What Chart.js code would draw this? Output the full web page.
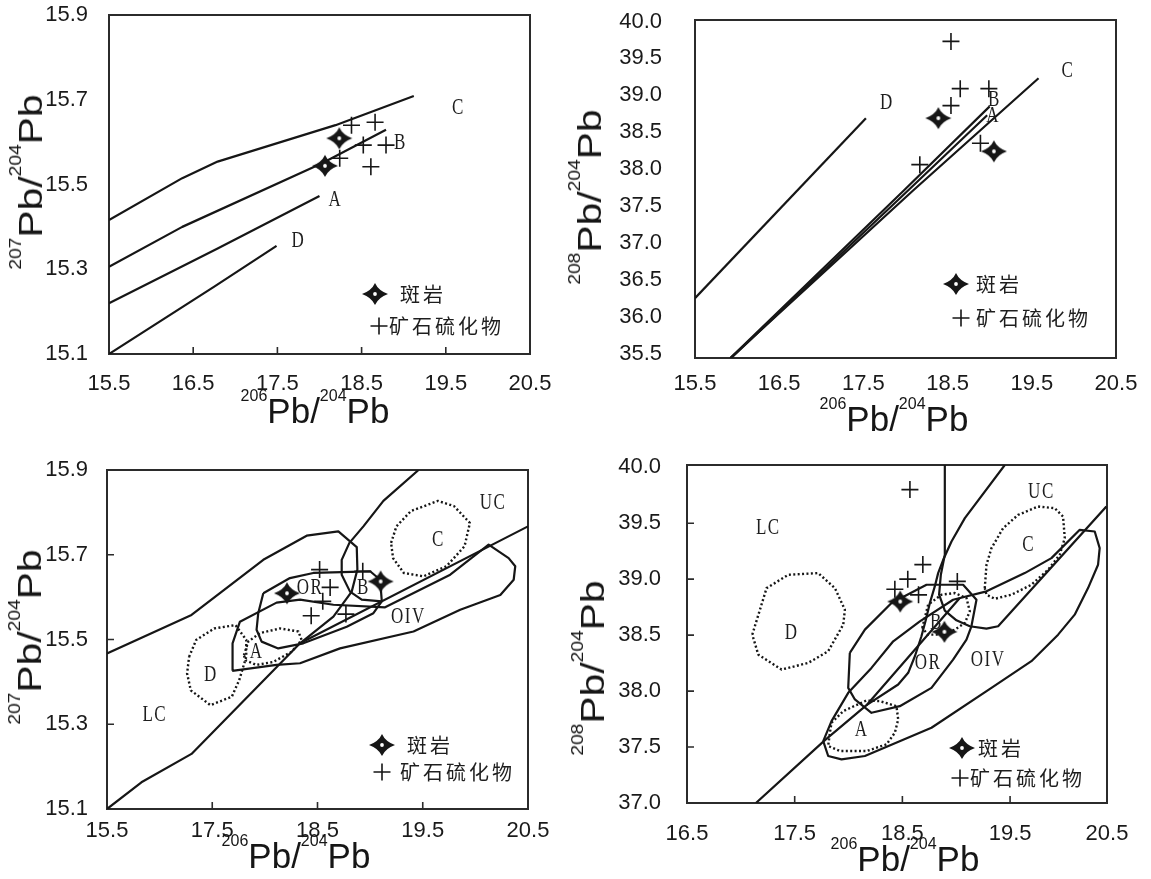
<!DOCTYPE html>
<html lang="zh">
<head>
<meta charset="utf-8">
<title>Pb isotope diagrams</title>
<script src="https://cdn.jsdelivr.net/npm/chart.js@4.4.1/dist/chart.umd.min.js"></script>
<style>
  html, body { margin: 0; background: #fff; }
  #wrap { position: relative; width: 1151px; height: 879px; overflow: hidden;
          font-family: "Liberation Sans", Arial, sans-serif; color: #161616; }
  .panel { position: absolute; }
  .panel canvas { display: block; }
  .ttl { position: absolute; white-space: nowrap; line-height: 1; }
  .ttl span { position: relative; font-size: 16px; }
  .xt { font-size: 35px; transform: translateX(-50%); }
  .xt span { top: -22px; }
  .yt { font-size: 34px; transform: translate(-50%, -50%) rotate(-90deg) scaleX(1.2); }
  .yt span { top: -21px; }
</style>
</head>
<body>
<div id="wrap">
  <div class="panel" style="left:0;top:0"><canvas id="c1" width="560" height="440"></canvas></div>
  <div class="panel" style="left:575px;top:0"><canvas id="c2" width="576" height="440"></canvas></div>
  <div class="panel" style="left:0;top:440px"><canvas id="c3" width="560" height="439"></canvas></div>
  <div class="panel" style="left:575px;top:440px"><canvas id="c4" width="576" height="439"></canvas></div>

  <div class="ttl xt" style="left:315px;top:393px"><span>206</span>Pb/<span>204</span>Pb</div>
  <div class="ttl xt" style="left:894px;top:401px"><span>206</span>Pb/<span>204</span>Pb</div>
  <div class="ttl xt" style="left:296px;top:838px"><span>206</span>Pb/<span>204</span>Pb</div>
  <div class="ttl xt" style="left:905px;top:841px"><span>206</span>Pb/<span>204</span>Pb</div>

  <div class="ttl yt" style="left:30px;top:182px"><span>207</span>Pb/<span>204</span>Pb</div>
  <div class="ttl yt" style="left:589px;top:197px"><span>208</span>Pb/<span>204</span>Pb</div>
  <div class="ttl yt" style="left:29px;top:637px"><span>207</span>Pb/<span>204</span>Pb</div>
  <div class="ttl yt" style="left:592px;top:668px"><span>208</span>Pb/<span>204</span>Pb</div>
</div>

<script>
// ---- shared text ----
const legendLabels = ['斑岩', '矿石硫化物'];

// ---- panel 1: 207Pb/204Pb vs 206Pb/204Pb, evolution curves ----
const p1XTicks = [15.5, 16.5, 17.5, 18.5, 19.5, 20.5];
const p1XLabels = ['15.5', '16.5', '17.5', '18.5', '19.5', '20.5'];
const p1YTicks = [15.1, 15.3, 15.5, 15.7, 15.9];
const p1YLabels = ['15.1', '15.3', '15.5', '15.7', '15.9'];
const p1CurveC = [[15.5, 15.416], [16.37, 15.515], [16.79, 15.554], [18.19, 15.64], [19.12, 15.709]];
const p1CurveB = [[15.5, 15.306], [16.37, 15.40], [18.03, 15.55], [18.79, 15.629]];
const p1CurveA = [[15.5, 15.22], [16.79, 15.349], [18.0, 15.473]];
const p1CurveD = [[15.5, 15.1], [16.75, 15.259], [17.49, 15.355]];
const p1PorphyryX = [18.235, 18.065];
const p1PorphyryY = [15.609, 15.544];
const p1SulfideX = [18.38, 18.66, 18.52, 18.79, 18.24, 18.61];
const p1SulfideY = [15.640, 15.647, 15.593, 15.593, 15.562, 15.542];
const p1Tags = ['C', 'B', 'A', 'D'];
const p1TagX = [19.65, 18.96, 18.19, 17.75];
const p1TagY = [15.68, 15.599, 15.463, 15.367];

// ---- panel 2: 208Pb/204Pb vs 206Pb/204Pb, evolution curves ----
const p2XTicks = [15.5, 16.5, 17.5, 18.5, 19.5, 20.5];
const p2XLabels = ['15.5', '16.5', '17.5', '18.5', '19.5', '20.5'];
const p2YTicks = [35.5, 36.0, 36.5, 37.0, 37.5, 38.0, 38.5, 39.0, 39.5, 40.0];
const p2YLabels = ['35.5', '36.0', '36.5', '37.0', '37.5', '38.0', '38.5', '39.0', '39.5', '40.0'];
const p2CurveD = [[15.5, 36.25], [17.53, 38.69]];
const p2CurveC = [[15.92, 35.44], [18.09, 37.71], [19.58, 39.23]];
const p2CurveB = [[15.92, 35.44], [17.98, 37.71], [19.0, 38.85]];
const p2CurveA = [[15.93, 35.44], [18.03, 37.71], [18.97, 38.73]];
const p2PorphyryX = [18.39, 19.05];
const p2PorphyryY = [38.69, 38.24];
const p2SulfideX = [18.54, 18.65, 18.99, 18.54, 18.89, 18.17];
const p2SulfideY = [39.73, 39.09, 39.09, 38.86, 38.35, 38.06];
const p2Tags = ['D', 'C', 'B', 'A'];
const p2TagX = [17.78, 19.93, 19.055, 19.04];
const p2TagY = [38.90, 39.33, 38.93, 38.72];

// ---- panel 3: 207Pb/204Pb fields ----
const p3XTicks = [16.5, 17.5, 18.5, 19.5, 20.5];
const p3XLabels = ['15.5', '17.5', '18.5', '19.5', '20.5'];
const p3YTicks = [15.1, 15.3, 15.5, 15.7, 15.9];
const p3YLabels = ['15.1', '15.3', '15.5', '15.7', '15.9'];
const p3BoundLC = [[16.5, 15.467], [17.303, 15.558], [17.985, 15.688], [18.397, 15.745], [18.698, 15.755],
  [18.873, 15.718], [18.879, 15.665], [18.825, 15.613], [18.651, 15.554], [18.334, 15.491]];
const p3BoundLow = [[16.5, 15.1], [16.827, 15.163], [17.303, 15.230], [18.334, 15.491], [20.5, 15.767]];
const p3BoundUC = [[19.46, 15.9], [19.126, 15.827], [18.936, 15.767], [18.803, 15.728], [18.730, 15.688],
  [18.730, 15.653], [18.809, 15.613], [18.920, 15.594], [19.111, 15.590]];
const p3FieldOR = [[17.985, 15.609], [18.238, 15.645], [18.460, 15.657], [19.0, 15.661], [19.095, 15.641],
  [19.111, 15.590], [19.031, 15.562], [18.778, 15.530], [18.365, 15.491], [18.127, 15.479], [17.969, 15.495],
  [17.921, 15.523], [17.937, 15.562], [17.985, 15.609]];
const p3FieldOIV = [[17.690, 15.426], [17.693, 15.491], [17.763, 15.542], [18.111, 15.587], [18.334, 15.594],
  [18.651, 15.582], [19.142, 15.576], [19.761, 15.653], [20.126, 15.724], [20.316, 15.692], [20.379, 15.673],
  [20.364, 15.641], [20.237, 15.605], [19.856, 15.570], [19.412, 15.519], [18.714, 15.479], [18.334, 15.444],
  [18.111, 15.440], [17.690, 15.426]];
const p3AreaD = [[17.280, 15.459], [17.347, 15.499], [17.518, 15.526], [17.721, 15.534], [17.823, 15.499],
  [17.823, 15.459], [17.756, 15.404], [17.686, 15.365], [17.483, 15.345], [17.296, 15.380], [17.261, 15.420],
  [17.280, 15.459]];
const p3AreaA = [[17.801, 15.463], [17.842, 15.495], [17.953, 15.515], [18.143, 15.526], [18.318, 15.519],
  [18.349, 15.499], [18.254, 15.471], [18.080, 15.447], [17.921, 15.440], [17.816, 15.451], [17.801, 15.463]];
const p3AreaC = [[19.199, 15.728], [19.250, 15.767], [19.387, 15.803], [19.644, 15.827], [19.796, 15.815],
  [19.948, 15.775], [19.897, 15.720], [19.726, 15.673], [19.507, 15.649], [19.320, 15.657], [19.218, 15.692],
  [19.199, 15.728]];
const p3PorphyryX = [18.21, 19.10];
const p3PorphyryY = [15.609, 15.637];
const p3SulfideX = [18.52, 18.62, 18.55, 18.44, 18.77, 18.93];
const p3SulfideY = [15.665, 15.623, 15.590, 15.556, 15.560, 15.661];
const p3Tags = ['UC', 'C', 'OR', 'B', 'OIV', 'A', 'D', 'LC'];
const p3TagX = [20.167, 19.650, 18.429, 18.936, 19.364, 17.921, 17.487, 16.954];
const p3TagY = [15.823, 15.736, 15.621, 15.621, 15.554, 15.471, 15.416, 15.321];

// ---- panel 4: 208Pb/204Pb fields ----
const p4XTicks = [16.5, 17.5, 18.5, 19.5, 20.4];
const p4XLabels = ['16.5', '17.5', '18.5', '19.5', '20.5'];
const p4YTicks = [37.0, 37.5, 38.0, 38.5, 39.0, 39.5, 40.0];
const p4YLabels = ['37.0', '37.5', '38.0', '38.5', '39.0', '39.5', '40.0'];
const p4BoundLC = [[18.894, 40.02], [18.894, 39.218], [18.857, 39.039], [18.841, 38.861], [18.894, 38.718],
  [19.002, 38.632], [19.126, 38.579], [19.281, 38.558], [19.389, 38.579], [20.394, 39.649]];
const p4BoundUC = [[19.451, 40.02], [19.080, 39.545], [18.956, 39.337], [18.879, 39.173], [18.832, 39.054],
  [18.801, 38.935], [18.755, 38.787], [18.718, 38.638], [18.677, 38.490], [18.616, 38.311], [18.554, 38.163],
  [18.461, 38.059], [18.167, 37.874]];
const p4BoundLow = [[17.14, 37.0], [17.781, 37.562], [18.167, 37.874], [19.033, 38.831]];
const p4FieldOR = [[18.012, 38.341], [18.152, 38.549], [18.399, 38.787], [18.724, 38.950], [19.064, 38.950],
  [19.188, 38.816], [19.141, 38.579], [19.095, 38.460], [18.971, 38.281], [18.770, 38.029], [18.476, 37.865],
  [18.213, 37.806], [18.059, 37.925], [17.997, 38.029], [18.012, 38.341]];
const p4FieldOIV = [[17.765, 37.553], [17.842, 37.732], [17.997, 37.984], [18.213, 38.207], [18.415, 38.445],
  [18.662, 38.623], [18.971, 38.816], [19.281, 38.891], [19.636, 39.054], [19.884, 39.188], [20.147, 39.441],
  [20.286, 39.426], [20.332, 39.277], [20.317, 39.129], [20.224, 38.920], [20.100, 38.683], [19.946, 38.504],
  [19.698, 38.267], [19.327, 38.029], [18.770, 37.672], [18.152, 37.420], [17.935, 37.390], [17.811, 37.420],
  [17.765, 37.553]];
const p4AreaD = [[17.106, 38.504], [17.239, 38.920], [17.440, 39.039], [17.719, 39.054], [17.873, 38.920],
  [17.966, 38.727], [17.951, 38.594], [17.811, 38.356], [17.626, 38.252], [17.378, 38.192], [17.162, 38.326],
  [17.106, 38.504]];
const p4AreaA = [[17.842, 37.717], [17.951, 37.821], [18.167, 37.916], [18.291, 37.910], [18.445, 37.865],
  [18.461, 37.747], [18.430, 37.628], [18.353, 37.524], [18.167, 37.464], [17.920, 37.464], [17.811, 37.509],
  [17.827, 37.628], [17.842, 37.717]];
const p4AreaB = [[18.684, 38.564], [18.739, 38.772], [18.863, 38.861], [18.987, 38.876], [19.095, 38.831],
  [19.126, 38.712], [19.080, 38.608], [18.987, 38.549], [18.863, 38.504], [18.739, 38.504], [18.684, 38.564]];
const p4AreaC = [[19.265, 38.920], [19.281, 39.129], [19.327, 39.277], [19.435, 39.455], [19.574, 39.574],
  [19.760, 39.649], [19.915, 39.634], [19.992, 39.559], [20.008, 39.366], [19.961, 39.218], [19.853, 39.084],
  [19.698, 38.950], [19.513, 38.861], [19.358, 38.825], [19.281, 38.861], [19.265, 38.920]];
const p4PorphyryX = [18.48, 18.89];
const p4PorphyryY = [38.80, 38.53];
const p4SulfideX = [18.57, 18.69, 18.55, 18.43, 18.65, 19.01];
const p4SulfideY = [39.80, 39.13, 39.00, 38.91, 38.86, 38.98];
const p4Tags = ['LC', 'D', 'B', 'OR', 'OIV', 'A', 'C', 'UC'];
const p4TagX = [17.255, 17.471, 18.817, 18.739, 19.296, 18.121, 19.673, 19.791];
const p4TagY = [39.455, 38.519, 38.608, 38.252, 38.281, 37.657, 39.307, 39.782];

// ---- drawing helpers ----
const FONT_SANS = '"Liberation Sans", Arial, sans-serif';
const FONT_SERIF = '"Liberation Serif", "Times New Roman", serif';
const FONT_CJK = '"Noto Sans CJK SC", sans-serif';
const INK = '#161616';

const toXY = pts => pts.map(p => ({ x: p[0], y: p[1] }));
const zip = (xs, ys) => xs.map((x, i) => ({ x, y: ys[i] }));

function drawStar(g, cx, cy, rx, ry) {
  const k = 3.4;
  g.save();
  g.beginPath();
  g.moveTo(cx, cy - ry);
  g.quadraticCurveTo(cx + k, cy - k, cx + rx, cy);
  g.quadraticCurveTo(cx + k, cy + k, cx, cy + ry);
  g.quadraticCurveTo(cx - k, cy + k, cx - rx, cy);
  g.quadraticCurveTo(cx - k, cy - k, cx, cy - ry);
  g.closePath();
  g.fillStyle = INK;
  g.fill();
  g.fillStyle = '#fff';
  g.beginPath();
  g.arc(cx, cy, 1.9, 0, Math.PI * 2);
  g.fill();
  g.restore();
}

function drawPlus(g, cx, cy, r) {
  g.save();
  g.strokeStyle = INK;
  g.lineWidth = 1.6;
  g.beginPath();
  g.moveTo(cx - r, cy); g.lineTo(cx + r, cy);
  g.moveTo(cx, cy - r); g.lineTo(cx, cy + r);
  g.stroke();
  g.restore();
}

const STAR = (() => {
  const c = document.createElement('canvas');
  c.width = 28; c.height = 24;
  drawStar(c.getContext('2d'), 14, 12, 13, 11);
  return c;
})();

// frame, inner ticks, letters and the in-plot legend
function decor(cfg) {
  return {
    id: 'decor',
    beforeDatasetsDraw(chart) {
      const { ctx, chartArea: a, scales: { x, y } } = chart;
      ctx.save();
      ctx.strokeStyle = '#2b2b2b';
      ctx.lineWidth = 2;
      ctx.strokeRect(a.left, a.top, a.right - a.left, a.bottom - a.top);
      ctx.lineWidth = 1.6;
      ctx.beginPath();
      cfg.xInner.forEach(v => {
        const px = x.getPixelForValue(v);
        ctx.moveTo(px, a.bottom); ctx.lineTo(px, a.bottom - 7);
      });
      cfg.yInner.forEach(v => {
        const py = y.getPixelForValue(v);
        ctx.moveTo(a.left, py); ctx.lineTo(a.left + 7, py);
      });
      ctx.stroke();
      ctx.restore();
    },
    afterDatasetsDraw(chart) {
      const { ctx, chartArea: a, scales: { x, y } } = chart;
      ctx.save();
      ctx.fillStyle = '#1e1e1e';
      ctx.font = '23px ' + FONT_SERIF;
      ctx.textAlign = 'center';
      ctx.textBaseline = 'middle';
      ctx.letterSpacing = '2px';
      cfg.tags.forEach((t, i) => {
        ctx.save();
        ctx.translate(x.getPixelForValue(cfg.tagX[i]), y.getPixelForValue(cfg.tagY[i]));
        ctx.scale(0.74, 1);
        ctx.fillText(t, 0, 0);
        ctx.restore();
      });

      const L = cfg.legend;
      drawStar(ctx, a.right + L.star[0], a.bottom + L.star[1], 13, 11);
      drawPlus(ctx, a.right + L.plus[0], a.bottom + L.plus[1], 8.5);
      ctx.font = '20px ' + FONT_CJK;
      ctx.textAlign = 'left';
      ctx.letterSpacing = '3px';
      ctx.fillStyle = '#1e1e1e';
      ctx.fillText(legendLabels[0], a.right + L.starText, a.bottom + L.star[1]);
      ctx.fillText(legendLabels[1], a.right + L.plusText, a.bottom + L.plus[1]);
      ctx.restore();
    }
  };
}

function makePanel(id, cfg) {
  const lineSets = cfg.lines.map(l => ({
    data: toXY(l.pts),
    showLine: true,
    borderColor: INK,
    borderWidth: l.dotted ? 2.4 : 2.2,
    borderDash: l.dotted ? [2, 2.4] : [],
    borderJoinStyle: 'round',
    pointRadius: 0,
    fill: false,
    tension: 0
  }));
  const datasets = [
    { data: zip(cfg.porX, cfg.porY), pointStyle: STAR, pointRadius: 7, showLine: false },
    { data: zip(cfg.sulX, cfg.sulY), pointStyle: 'cross', pointRadius: 8.5, borderWidth: 1.6,
      borderColor: INK, showLine: false },
    ...lineSets
  ];
  const tickFont = { family: FONT_SANS, size: 22 };

  new Chart(document.getElementById(id), {
    type: 'scatter',
    data: { datasets },
    options: {
      responsive: false,
      animation: false,
      events: [],
      layout: { padding: { left: 0, top: cfg.padTop, right: cfg.padRight, bottom: 0 } },
      plugins: { legend: { display: false }, tooltip: { enabled: false } },
      scales: {
        x: {
          type: 'linear', min: cfg.xMin, max: cfg.xMax,
          afterBuildTicks: s => { s.ticks = cfg.xTicks.map(v => ({ value: v })); },
          // fixed axis band; the frame position comes from the layout padding only
          afterFit: s => { s.height = cfg.xAxisH; s.paddingLeft = 0; s.paddingRight = 0; },
          grid: { display: false, drawTicks: false },
          border: { display: false },
          ticks: { autoSkip: false, maxRotation: 0, padding: cfg.xPad, font: tickFont, color: '#1a1a1a',
                   callback: (v, i) => cfg.xLabels[i] }
        },
        y: {
          type: 'linear', min: cfg.yMin, max: cfg.yMax,
          afterBuildTicks: s => { s.ticks = cfg.yTicks.map(v => ({ value: v })); },
          afterFit: s => { s.width = cfg.yAxisW; s.paddingTop = 0; s.paddingBottom = 0; },
          grid: { display: false, drawTicks: false },
          border: { display: false },
          ticks: { autoSkip: false, padding: cfg.yPad, font: tickFont, color: '#1a1a1a',
                   callback: (v, i) => cfg.yLabels[i] }
        }
      }
    },
    plugins: [decor(cfg)]
  });
}

makePanel('c1', {
  xMin: 15.5, xMax: 20.5, yMin: 15.1, yMax: 15.9,
  xTicks: p1XTicks, xLabels: p1XLabels, yTicks: p1YTicks, yLabels: p1YLabels,
  yAxisW: 109, xAxisH: 86, padTop: 15, padRight: 30, xPad: 17, yPad: 21,
  xInner: [16.5, 17.5, 18.5, 19.5], yInner: [],
  lines: [{ pts: p1CurveC }, { pts: p1CurveB }, { pts: p1CurveA }, { pts: p1CurveD }],
  porX: p1PorphyryX, porY: p1PorphyryY, sulX: p1SulfideX, sulY: p1SulfideY,
  tags: p1Tags, tagX: p1TagX, tagY: p1TagY,
  legend: { star: [-155, -60], starText: -130, plus: [-151, -28], plusText: -141 }
});

makePanel('c2', {
  xMin: 15.5, xMax: 20.5, yMin: 35.44, yMax: 40.02,
  xTicks: p2XTicks, xLabels: p2XLabels, yTicks: p2YTicks, yLabels: p2YLabels,
  yAxisW: 120, xAxisH: 82, padTop: 20, padRight: 35, xPad: 13, yPad: 33,
  xInner: [], yInner: [],
  lines: [{ pts: p2CurveD }, { pts: p2CurveC }, { pts: p2CurveB }, { pts: p2CurveA }],
  porX: p2PorphyryX, porY: p2PorphyryY, sulX: p2SulfideX, sulY: p2SulfideY,
  tags: p2Tags, tagX: p2TagX, tagY: p2TagY,
  legend: { star: [-160, -74], starText: -140, plus: [-155, -40], plusText: -140 }
});

makePanel('c3', {
  xMin: 16.5, xMax: 20.5, yMin: 15.1, yMax: 15.9,
  xTicks: p3XTicks, xLabels: p3XLabels, yTicks: p3YTicks, yLabels: p3YLabels,
  yAxisW: 107, xAxisH: 70, padTop: 30, padRight: 32, xPad: 9, yPad: 19,
  xInner: [17.5, 18.5, 19.5], yInner: [15.3, 15.5, 15.7],
  lines: [
    { pts: p3BoundLC }, { pts: p3BoundLow }, { pts: p3BoundUC }, { pts: p3FieldOR }, { pts: p3FieldOIV },
    { pts: p3AreaD, dotted: true }, { pts: p3AreaA, dotted: true }, { pts: p3AreaC, dotted: true }
  ],
  porX: p3PorphyryX, porY: p3PorphyryY, sulX: p3SulfideX, sulY: p3SulfideY,
  tags: p3Tags, tagX: p3TagX, tagY: p3TagY,
  legend: { star: [-146, -64], starText: -121, plus: [-146, -37], plusText: -128 }
});

makePanel('c4', {
  xMin: 16.5, xMax: 20.4, yMin: 37.0, yMax: 40.02,
  xTicks: p4XTicks, xLabels: p4XLabels, yTicks: p4YTicks, yLabels: p4YLabels,
  yAxisW: 112, xAxisH: 76, padTop: 25, padRight: 44, xPad: 18, yPad: 26,
  xInner: [17.5, 18.5, 19.5], yInner: [37.5, 38.0, 38.5, 39.0, 39.5],
  lines: [
    { pts: p4BoundLC }, { pts: p4BoundUC }, { pts: p4BoundLow }, { pts: p4FieldOR }, { pts: p4FieldOIV },
    { pts: p4AreaD, dotted: true }, { pts: p4AreaA, dotted: true }, { pts: p4AreaB, dotted: true },
    { pts: p4AreaC, dotted: true }
  ],
  porX: p4PorphyryX, porY: p4PorphyryY, sulX: p4SulfideX, sulY: p4SulfideY,
  tags: p4Tags, tagX: p4TagX, tagY: p4TagY,
  legend: { star: [-145, -55], starText: -129, plus: [-147, -25], plusText: -137 }
});
</script>
</body>
</html>
